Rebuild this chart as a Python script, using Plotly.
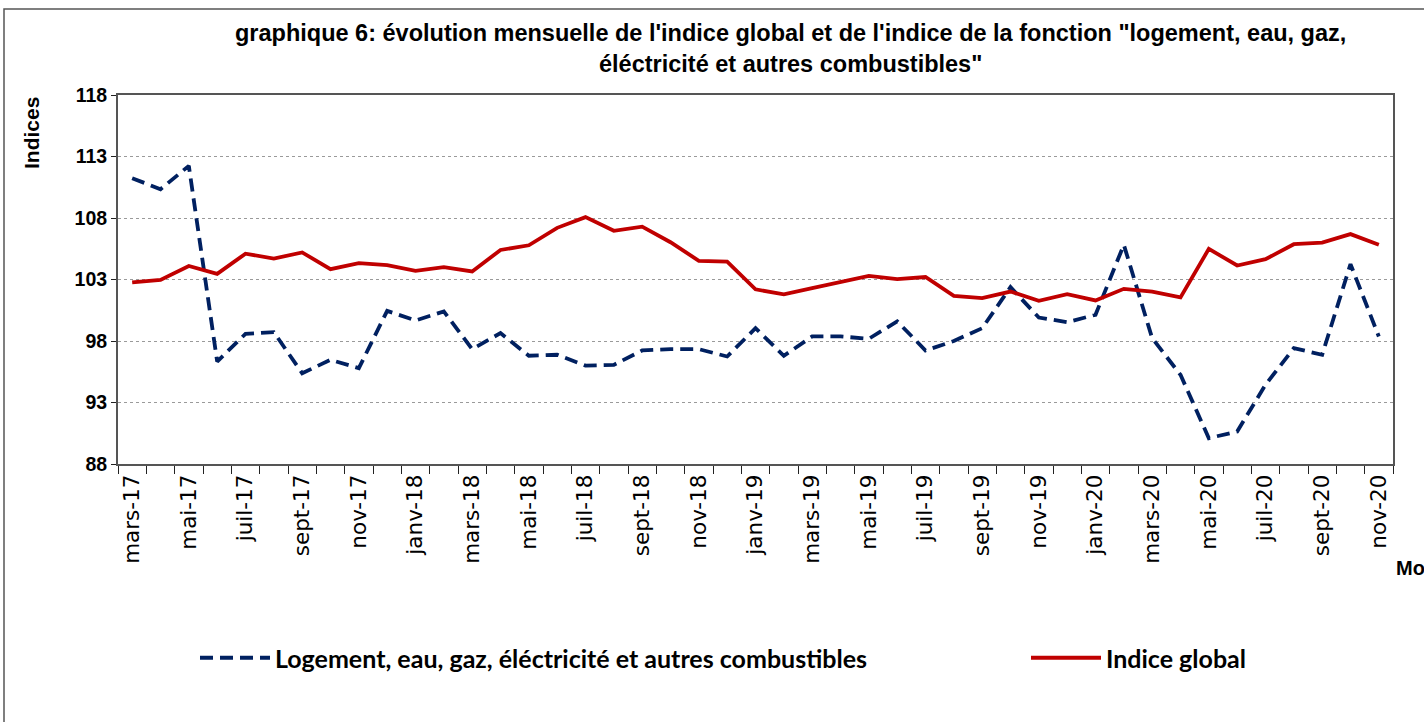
import plotly.graph_objects as go

months = ["mars-17","avr-17","mai-17","juin-17","juil-17","août-17","sept-17","oct-17","nov-17","déc-17",
          "janv-18","févr-18","mars-18","avr-18","mai-18","juin-18","juil-18","août-18","sept-18","oct-18","nov-18","déc-18",
          "janv-19","févr-19","mars-19","avr-19","mai-19","juin-19","juil-19","août-19","sept-19","oct-19","nov-19","déc-19",
          "janv-20","févr-20","mars-20","avr-20","mai-20","juin-20","juil-20","août-20","sept-20","oct-20","nov-20"]

logement = [111.24, 110.34, 112.24, 96.33, 98.58, 98.72, 95.38, 96.47, 95.79, 100.45,
            99.67, 100.40, 97.34, 98.64, 96.80, 96.88, 96.00, 96.06, 97.23, 97.34, 97.34, 96.74,
            99.04, 96.80, 98.37, 98.37, 98.18, 99.60, 97.23, 98.00, 99.04, 102.38, 99.91, 99.53,
            100.13, 105.82, 98.23, 95.25, 90.10, 90.64, 94.44, 97.42, 96.88, 104.25, 98.37]

indice_global = [102.76, 102.97, 104.10, 103.46, 105.10, 104.70, 105.20, 103.84, 104.33, 104.17,
                 103.70, 104.00, 103.65, 105.40, 105.78, 107.20, 108.07, 106.96, 107.30, 106.03, 104.52, 104.46,
                 102.20, 101.80, 102.30, 102.78, 103.30, 103.03, 103.20, 101.67, 101.48, 102.02, 101.27, 101.80,
                 101.30, 102.24, 102.02, 101.54, 105.49, 104.14, 104.65, 105.87, 106.00, 106.69, 105.82]

y_ticks = [88, 93, 98, 103, 108, 113, 118]

name_log = "Logement, eau, gaz, éléctricité et autres combustibles"
name_glob = "Indice global"

L, R, T, B = 118, 31, 95, 258
W, H = 1424, 722
pw = W - L - R
ph = H - T - B


def px_x(px):
    return (px - L) / pw


def px_y(py):
    return (T + ph - py) / ph


fig = go.Figure()
fig.add_trace(go.Scatter(x=months, y=logement, mode="lines", name=name_log, legend="legend",
                         line=dict(color="#002060", width=3.8, dash="13px,7px")))
fig.add_trace(go.Scatter(x=months, y=indice_global, mode="lines", name=name_glob, legend="legend2",
                         line=dict(color="#C00000", width=3.8)))

legend_font = dict(family="Lato", size=25, color="black", weight="bold")

fig.update_layout(
    width=W, height=H,
    margin=dict(l=L, r=R, t=T, b=B),
    paper_bgcolor="white", plot_bgcolor="white",
    font=dict(family="Liberation Sans, Arial", color="black"),
    showlegend=True,
    legend=dict(orientation="h", x=px_x(195), xanchor="left",
                y=px_y(658), yanchor="middle", font=legend_font,
                itemwidth=70, bgcolor="rgba(0,0,0,0)"),
    legend2=dict(orientation="h", x=px_x(1026), xanchor="left",
                 y=px_y(658), yanchor="middle", font=legend_font,
                 itemwidth=70, bgcolor="rgba(0,0,0,0)"),
    xaxis=dict(type="category", tickmode="array", tickvals=months,
               ticktext=[m if i % 2 == 0 else "" for i, m in enumerate(months)],
               tickangle=-90, tickson="boundaries", ticks="outside", ticklen=8,
               tickcolor="#222", tickwidth=1,
               tickfont=dict(family="DejaVu Sans", size=21.5, color="black"),
               showline=True, linecolor="#555", linewidth=2, mirror=True,
               showgrid=False, range=[-0.5, len(months) - 0.5], fixedrange=True,
               automargin=False),
    yaxis=dict(range=[88, 118], tickmode="array", tickvals=y_ticks,
               ticktext=[str(v) for v in y_ticks],
               ticks="outside", ticklen=5, tickcolor="#222",
               tickfont=dict(family="Liberation Sans", size=19.5, color="black", weight="bold"),
               showline=True, linecolor="#555", linewidth=2, mirror=True,
               showgrid=True, gridcolor="#9a9a9a", griddash="dot", gridwidth=1,
               zeroline=False, fixedrange=True, automargin=False),
)

fig.add_annotation(xref="paper", yref="paper",
                   x=px_x(790), y=px_y(48),
                   text="graphique 6: évolution mensuelle de l'indice global et de l'indice de la fonction \"logement, eau, gaz,<br>éléctricité et autres combustibles\"",
                   showarrow=False, xanchor="center", yanchor="middle",
                   font=dict(family="Liberation Sans", size=23.5, color="black", weight="bold"))
fig.add_annotation(xref="paper", yref="paper",
                   x=px_x(31), y=px_y(133),
                   text="Indices", textangle=-90, showarrow=False,
                   xanchor="center", yanchor="middle",
                   font=dict(family="Liberation Sans", size=21, color="black", weight="bold"))
fig.add_annotation(xref="paper", yref="paper",
                   x=px_x(1394), y=px_y(568),
                   text="Mois", showarrow=False, xanchor="left", yanchor="middle",
                   font=dict(family="Liberation Sans", size=20, color="black", weight="bold"))

fig.add_shape(type="rect", xref="paper", yref="paper",
              x0=px_x(4), x1=px_x(1440),
              y0=px_y(740), y1=px_y(9),
              line=dict(color="#555", width=1.5), layer="below")

fig.write_html("out.html", config={"displayModeBar": False},
               post_script="document.body.style.margin='0';document.body.style.overflow='hidden';")
